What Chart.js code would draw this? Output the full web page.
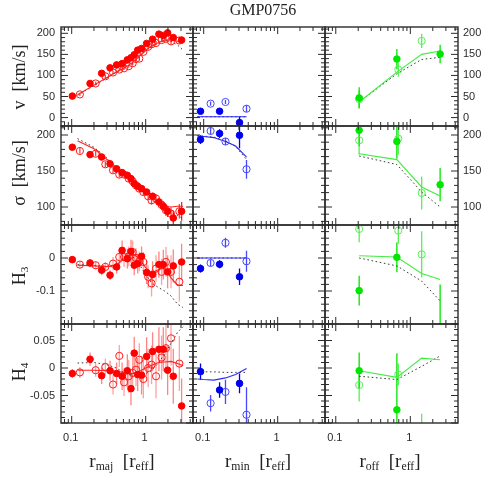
<!DOCTYPE html>
<html><head><meta charset="utf-8">
<script src="https://cdn.jsdelivr.net/npm/chart.js@4.4.1/dist/chart.umd.min.js"></script>
<style>
html,body{margin:0;padding:0;background:#fff}
#wrap{position:relative;width:491px;height:491px;overflow:hidden;background:#fff}
canvas{position:absolute;left:0;top:0}
.lbl{position:absolute;font-family:"Liberation Serif","DejaVu Serif",serif;color:#222;white-space:nowrap;line-height:1}
.lbl sub{font-size:62%;vertical-align:-0.3em;line-height:0}
</style></head><body><div id="wrap"></div>
<script>
// ---------------- DATA ----------------
// column 1: major axis (red)
const majFilledX = [0.102,0.177,0.254,0.33,0.405,0.48,0.565,0.633,0.70,0.78,0.88,1.03,1.24,1.51,1.73,1.98,2.36,3.06];
const majOpenX   = [0.129,0.211,0.285,0.362,0.44,0.51,0.59,0.667,0.74,0.82,0.93,1.08,1.2,1.38,1.64,1.88,2.2,2.85];
const majModelX  = [0.12,0.2,0.3,0.4,0.5,0.6,0.7,0.85,1.0,1.2,1.5,1.8,2.2,2.7,3.2];

const majVFilled    = [51,81,105,118,125,128,137,142,149,160,164,176,186,198,195,201,190,184];
const majVFilledErr = [4,4,4,4,4,4,4,4,4,4,4,4,4,4,5,5,6,8];
const majVOpen      = [55,81,98,107,114,117,122,129,139,140,156,168,174,177,184,187,181,183];
const majVOpenErr   = [4,4,4,4,4,4,4,4,4,4,4,5,5,5,5,6,7,8];
const majVModel     = [54,77,95,108,117,125,134,148,160,170,178,184,184,181,177];
const majVModel2    = [53,76,94,107,116,124,133,146,158,168,177,183,181,172,160];

const majSFilled    = [183,172.8,169.4,160,153,147.8,144,139.4,132.5,128.7,125.5,120.8,114.9,107,101,94,84.7,94];
const majSFilledErr = [3,3,3,3,3,3,3,3,4,4,4,4,5,6,7,8,10,13];
const majSOpen      = [177.8,174,159.3,151,145,145,139.4,135.7,130,125.5,120.8,114.9,109.3,111.7,103,95.4,90.8,94];
const majSOpenErr   = [4,4,4,4,4,4,4,4,4,4,5,5,6,6,7,8,9,10];
const majSModel     = [192,181,166,155,147,141,135,127,121,114,106,101,100,101,101];
const majSModel2    = [195,183,168,156,147,141,134,126,119,112,104,98,93,88,84];

const majH3Filled    = [-0.005,-0.015,-0.037,-0.052,-0.027,0.023,-0.002,0.02,-0.022,-0.017,0.005,-0.044,-0.05,-0.02,-0.02,-0.042,-0.024,-0.012];
const majH3FilledErr = [0.01,0.012,0.015,0.015,0.02,0.03,0.03,0.035,0.03,0.03,0.03,0.035,0.04,0.04,0.045,0.05,0.05,0.055];
const majH3Open      = [-0.02,-0.022,-0.027,-0.017,0.003,0.003,0.005,0.018,0,-0.01,-0.012,-0.057,-0.077,-0.032,-0.042,-0.012,-0.042,-0.072];
const majH3OpenErr   = [0.01,0.012,0.015,0.02,0.025,0.03,0.03,0.035,0.03,0.03,0.03,0.035,0.04,0.04,0.04,0.045,0.05,0.06];
const majH3Model     = [-0.022,-0.024,-0.026,-0.022,-0.005,0.008,0.01,-0.005,-0.03,-0.045,-0.035,-0.03,-0.06,-0.083,-0.083];
const majH3Model2    = [-0.02,-0.022,-0.025,-0.02,-0.002,0.008,0.0,-0.025,-0.05,-0.075,-0.09,-0.1,-0.115,-0.14,-0.15];

const majH4Filled    = [-0.010,0.016,-0.014,-0.005,-0.01,-0.015,-0.005,-0.0375,0.027,-0.012,-0.013,0.021,0.03,0.034,0.034,-0.004,-0.015,-0.069];
const majH4FilledErr = [0.008,0.012,0.015,0.018,0.02,0.025,0.03,0.03,0.03,0.03,0.035,0.035,0.035,0.04,0.04,0.045,0.05,0.05];
const majH4Open      = [-0.008,-0.004,0.002,-0.03,0.022,-0.026,-0.015,-0.009,-0.003,0.015,-0.02,0.0,0.006,-0.015,0.019,0.036,0.054,0.008];
const majH4OpenErr   = [0.01,0.012,0.015,0.018,0.02,0.025,0.03,0.03,0.03,0.03,0.035,0.035,0.035,0.04,0.04,0.045,0.05,0.05];
const majH4Model     = [-0.004,-0.004,-0.005,-0.006,-0.008,-0.01,-0.01,-0.005,0.0,0.005,0.01,0.011,0.012,0.008,0.004];
const majH4Model2    = [0.009,0.01,0.006,0.0,-0.008,-0.012,-0.013,-0.012,-0.01,-0.005,0.01,0.025,0.045,0.065,0.075];

// column 2: minor axis (blue)
const minFilledX = [0.0906,0.164,0.305];
const minOpenX   = [0.124,0.197,0.379];
const minModelX  = [0.082,0.1,0.137,0.197,0.27,0.38];
const minVFilled=[15,15,-12], minVFilledErr=[4,4,14], minVOpen=[33,37,21], minVOpenErr=[5,5,8];
const minVModel=[2,2,2,2,2,2], minVModel2=[2,2,2,2,2,2];
const minSFilled=[193.6,202,199.6], minSFilledErr=[6,6,18], minSOpen=[205.6,191,152.4], minSOpenErr=[5,5,13];
const minSModel=[198.6,198,196.4,191,184.7,169.4], minSModel2=[199,198.5,197,192,184,166];
const minH3Filled=[-0.032,-0.019,-0.057], minH3FilledErr=[0.012,0.012,0.025], minH3Open=[-0.015,0.046,-0.01], minH3OpenErr=[0.01,0.015,0.032];
const minH3Model=[0,0,0,0,0,0], minH3Model2=[0,0,0,0,0,0];
const minH4Filled=[-0.0066,-0.04,-0.028], minH4FilledErr=[0.015,0.014,0.018], minH4Open=[-0.064,-0.0435,-0.085], minH4OpenErr=[0.015,0.022,0.05];
const minH4Model=[-0.02,-0.021,-0.022,-0.018,-0.012,-0.001], minH4Model2=[-0.007,-0.007,-0.007,-0.008,-0.008,-0.008];

// column 3: offset axis (green)
const offFilledX = [0.206,0.66,2.51];
const offOpenX   = [0.206,0.69,1.42];
const offModelX  = [0.206,0.66,1.42,2.51];
const offVFilled=[46.7,139,151], offVFilledErr=[25,24,22], offVOpen=[43.6,114,182], offVOpenErr=[20,17,17];
const offVModel=[37,108,150,158], offVModel2=[37,104,138,143];
const offSFilled=[206.5,191,131], offSFilledErr=[22,24,23], offSOpen=[192.6,195,119.4], offSOpenErr=[20,22,23];
const offSModel=[174,165.8,127.8,115.3], offSModel2=[170.8,159,120.8,100];
const offH3Filled=[-0.099,0.002,-0.22], offH3FilledErr=[0.045,0.045,0.14], offH3Open=[0.088,0.083,0.011], offH3OpenErr=[0.04,0.04,0.07];
const offH3Model=[0.007,0.003,-0.047,-0.065], offH3Model2=[0,-0.024,-0.07,-0.13];
const offH4Filled=[-0.005,-0.076,0.12], offH4FilledErr=[0.033,0.103,0.03], offH4Open=[-0.031,-0.012,-0.13], offH4OpenErr=[0.03,0.02,0.047];
const offH4Model=[-0.005,-0.017,0.018,0.015], offH4Model2=[-0.015,-0.021,0.003,0.022];

// axes
const xRange = [0.0717, 4.36];
const xMajorTicks = [0.1, 1];
const xMinorTicks = [0.08,0.09,0.2,0.3,0.4,0.5,0.6,0.7,0.8,0.9,2,3,4];
const xTickLabels = ['0.1','1'];
const yRanges = [[-20,215],[75,212.5],[-0.2,0.1],[-0.1,0.08]];
const yMajorTicks = [[0,50,100,150,200],[100,150,200],[-0.2,-0.1,0,0.1],[-0.1,-0.05,0,0.05]];
const yMinorStep = [10,10,0.02,0.01];
const yTickLabelVals = [[0,50,100,150,200],[100,150,200],[0,-0.1],[0.05,0,-0.05]];
const yTickLabels = [['0','50','100','150','200'],['100','150','200'],['0','-0.1'],['0.05','0','-0.05']];
const rightLabelRows = [true,true,false,false];

// ---------------- LAYOUT ----------------
const W = 491, H = 491;
const colEdges = [[61,193],[193,325],[325,458]];
const rowEdges = [[27,126],[126,225],[225,324],[324,423]];

const colStyle = [
  {fill:'#ff0000', open:'#ff1a1a', line:'#ff2020', errF:['#ff2020','#ff2020','rgba(255,50,50,0.6)','rgba(255,50,50,0.6)'], errO:['#ff4040','#ff4040','rgba(255,70,70,0.5)','rgba(255,70,70,0.5)']},
  {fill:'#0000f0', open:'#4848ff', line:'#2a2aff', errF:['#0000f0','#0000f0','#0000f0','#0000f0'], errO:['#4848ff','#4848ff','#4848ff','#4848ff']},
  {fill:'#00e600', open:'#55f055', line:'#40ee40', errF:['#00e600','#00e600','#00e600','#00e600'], errO:['#55f055','#55f055','#55f055','#55f055']}
];

const panelData = [
  [ // row v
    [majFilledX,majVFilled,majVFilledErr,majOpenX,majVOpen,majVOpenErr,majModelX,majVModel,majVModel2],
    [minFilledX,minVFilled,minVFilledErr,minOpenX,minVOpen,minVOpenErr,minModelX,minVModel,minVModel2],
    [offFilledX,offVFilled,offVFilledErr,offOpenX,offVOpen,offVOpenErr,offModelX,offVModel,offVModel2]],
  [ // row sigma
    [majFilledX,majSFilled,majSFilledErr,majOpenX,majSOpen,majSOpenErr,majModelX,majSModel,majSModel2],
    [minFilledX,minSFilled,minSFilledErr,minOpenX,minSOpen,minSOpenErr,minModelX,minSModel,minSModel2],
    [offFilledX,offSFilled,offSFilledErr,offOpenX,offSOpen,offSOpenErr,offModelX,offSModel,offSModel2]],
  [ // row h3
    [majFilledX,majH3Filled,majH3FilledErr,majOpenX,majH3Open,majH3OpenErr,majModelX,majH3Model,majH3Model2],
    [minFilledX,minH3Filled,minH3FilledErr,minOpenX,minH3Open,minH3OpenErr,minModelX,minH3Model,minH3Model2],
    [offFilledX,offH3Filled,offH3FilledErr,offOpenX,offH3Open,offH3OpenErr,offModelX,offH3Model,offH3Model2]],
  [ // row h4
    [majFilledX,majH4Filled,majH4FilledErr,majOpenX,majH4Open,majH4OpenErr,majModelX,majH4Model,majH4Model2],
    [minFilledX,minH4Filled,minH4FilledErr,minOpenX,minH4Open,minH4OpenErr,minModelX,minH4Model,minH4Model2],
    [offFilledX,offH4Filled,offH4FilledErr,offOpenX,offH4Open,offH4OpenErr,offModelX,offH4Model,offH4Model2]]
];

function pts(xs, ys){ return xs.map((x,i)=>({x:x, y:ys[i]})); }
function bars(xs, ys, es){ const o=[]; xs.forEach((x,i)=>{ o.push({x:x,y:ys[i]-es[i]},{x:x,y:ys[i]+es[i]},{x:x,y:null}); }); return o; }
function minorList(r){ const [a,b]=yRanges[r]; const s=yMinorStep[r]; const out=[]; for(let k=Math.ceil(a/s-1e-9);k*s<=b+1e-9;k++){out.push(+(k*s).toFixed(4));} return out; }

function makeFrame(r, c){
  return {
    id:'frame',
    afterDraw(chart){
      const {ctx, chartArea:a} = chart; const xs = chart.scales.x, ys = chart.scales.y;
      ctx.save();
      ctx.strokeStyle = '#2b2b2b';
      ctx.lineWidth = 1;
      const seg=(x1,y1,x2,y2)=>{ctx.beginPath();ctx.moveTo(x1,y1);ctx.lineTo(x2,y2);ctx.stroke();};
      const MJ=7, MN=4;
      xMajorTicks.forEach(v=>{const p=xs.getPixelForValue(v); if(p<a.left||p>a.right)return; seg(p,a.top,p,a.top+MJ); seg(p,a.bottom,p,a.bottom-MJ);});
      xMinorTicks.forEach(v=>{const p=xs.getPixelForValue(v); if(p<a.left||p>a.right)return; seg(p,a.top,p,a.top+MN); seg(p,a.bottom,p,a.bottom-MN);});
      const maj = yMajorTicks[r];
      minorList(r).forEach(v=>{ if (maj.some(m=>Math.abs(m-v)<1e-6)) return; const p=ys.getPixelForValue(v); if(p<a.top||p>a.bottom)return; seg(a.left,p,a.left+MN,p); seg(a.right,p,a.right-MN,p);});
      maj.forEach(v=>{const p=ys.getPixelForValue(v); if(p<a.top||p>a.bottom)return; seg(a.left,p,a.left+MJ,p); seg(a.right,p,a.right-MJ,p);});
      ctx.lineWidth = 1.4;
      ctx.strokeRect(a.left, a.top, a.right-a.left, a.bottom-a.top);
      // tick labels
      ctx.fillStyle = '#2b2b2b';
      ctx.font = '11px "Liberation Sans", Arial, sans-serif';
      if (c === 0) {
        ctx.textAlign='right'; ctx.textBaseline='middle';
        yTickLabelVals[r].forEach((v,i)=>{ ctx.fillText(yTickLabels[r][i], a.left-6, ys.getPixelForValue(v)); });
      }
      if (c === 2 && rightLabelRows[r]) {
        ctx.textAlign='left'; ctx.textBaseline='middle';
        yTickLabelVals[r].forEach((v,i)=>{ ctx.fillText(yTickLabels[r][i], a.right+5, ys.getPixelForValue(v)); });
      }
      if (r === 3) {
        ctx.textAlign='center'; ctx.textBaseline='top';
        xMajorTicks.forEach((v,i)=>{ ctx.fillText(xTickLabels[i], xs.getPixelForValue(v)-1, a.bottom+9); });
      }
      ctx.restore();
    }
  };
}

const wrap = document.getElementById('wrap');
for (let r=0;r<4;r++){
  for (let c=0;c<3;c++){
    const cv = document.createElement('canvas');
    cv.width=W; cv.height=H; cv.style.width=W+'px'; cv.style.height=H+'px';
    wrap.appendChild(cv);
    const [fx,fy,fe,ox,oy,oe,mx,my,my2] = panelData[r][c];
    const st = colStyle[c];
    const datasets = [
      {data:pts(fx,fy), backgroundColor:st.fill, borderColor:st.fill, borderWidth:1, pointRadius:3.3, pointStyle:'circle', order:0},
      {data:pts(ox,oy), backgroundColor:'rgba(0,0,0,0)', borderColor:st.open, borderWidth:1, pointRadius:3.6, pointStyle:'circle', order:1},
      {data:pts(mx,my), showLine:true, borderColor:st.line, borderWidth:1.1, pointRadius:0, order:2},
      {data:pts(mx,my2), showLine:true, borderColor:'#3a3a3a', borderWidth:1, borderDash:[1.6,2.6], pointRadius:0, order:3},
      {data:bars(fx,fy,fe), showLine:true, spanGaps:false, borderColor:st.errF[r], borderWidth:1.3, pointRadius:0, order:4},
      {data:bars(ox,oy,oe), showLine:true, spanGaps:false, borderColor:st.errO[r], borderWidth:1.3, pointRadius:0, order:5}
    ];
    new Chart(cv, {
      type:'scatter',
      data:{datasets},
      options:{
        responsive:false, animation:false, devicePixelRatio:1, events:[],
        layout:{padding:{left:colEdges[c][0], right:W-colEdges[c][1], top:rowEdges[r][0], bottom:H-rowEdges[r][1]}},
        plugins:{legend:{display:false}, tooltip:{enabled:false}, title:{display:false}},
        scales:{
          x:{type:'logarithmic', min:xRange[0], max:xRange[1], display:false},
          y:{type:'linear', min:yRanges[r][0], max:yRanges[r][1], display:false}
        }
      },
      plugins:[makeFrame(r,c)]
    });
  }
}

// ---------------- TEXT ----------------
function addLabel(html, cx, cy, size, rot){
  const d=document.createElement('div'); d.className='lbl'; d.innerHTML=html;
  d.style.fontSize=size+'px'; d.style.left=cx+'px'; d.style.top=cy+'px';
  d.style.transform='translate(-50%,-50%)'+(rot?' rotate(-90deg)':'');
  wrap.appendChild(d);
}
addLabel('GMP0756', 263, 10, 16, false);
addLabel('v&nbsp;&nbsp;[km/s]', 19, 77, 18, true);
addLabel('&sigma;&nbsp;&nbsp;[km/s]', 19, 173, 18, true);
addLabel('H<sub>3</sub>', 19, 276, 18, true);
addLabel('H<sub>4</sub>', 19, 372, 18, true);
addLabel('r<sub>maj</sub>&nbsp;&nbsp;[r<sub>eff</sub>]', 122, 460, 19, false);
addLabel('r<sub>min</sub>&nbsp;&nbsp;[r<sub>eff</sub>]', 258, 460, 19, false);
addLabel('r<sub>off</sub>&nbsp;&nbsp;[r<sub>eff</sub>]', 390, 460, 19, false);
</script></body></html>
